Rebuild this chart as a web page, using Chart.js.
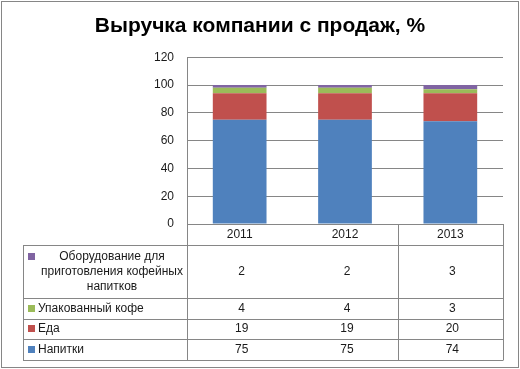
<!DOCTYPE html>
<html>
<head>
<meta charset="utf-8">
<script src="https://cdn.jsdelivr.net/npm/chart.js@4"></script>
<style>
  body { margin: 0; background: #fff; }
  canvas { display: block; }
</style>
</head>
<body>
<canvas id="revenueChart" width="520" height="369"></canvas>
<script>
// data
const years = ['2011', '2012', '2013'];
const seriesNames = ['Напитки', 'Еда', 'Упакованный кофе', 'Оборудование для приготовления кофейных напитков'];
const drinks = [75, 75, 74];
const food = [19, 19, 20];
const packedCoffee = [4, 4, 3];
const equipment = [2, 2, 3];
const seriesColors = ['#4F81BD', '#C0504D', '#9BBB59', '#8064A2'];

const lineColor = '#868686';
const textColor = '#1a1a1a';
const baseFont = '"Liberation Sans", Arial, sans-serif';

// data table under the plot (Excel style)
const dataTable = {
    id: 'dataTable',
    afterDraw(chart) {
        const ctx = chart.ctx;
        const area = chart.chartArea;
        const x = chart.scales.x;
        const rowHeights = [53, 21, 20, 21];
        const tableLeft = 23;
        const headerBottom = area.bottom + 21;

        ctx.save();
        ctx.strokeStyle = lineColor;
        ctx.lineWidth = 1;

        // row lines
        let y = headerBottom;
        const rowTops = [];
        rowHeights.forEach(h => { rowTops.push(y); y += h; });
        const tableBottom = y;
        ctx.beginPath();
        rowTops.concat([tableBottom]).forEach(ry => {
            ctx.moveTo(tableLeft, Math.round(ry) + 0.5);
            ctx.lineTo(area.right, Math.round(ry) + 0.5);
        });
        // column lines
        ctx.moveTo(tableLeft + 0.5, headerBottom);
        ctx.lineTo(tableLeft + 0.5, tableBottom);
        [area.left, (x.getPixelForValue(1) + x.getPixelForValue(2)) / 2, area.right].forEach(cx => {
            ctx.moveTo(Math.round(cx) + 0.5, area.bottom);
            ctx.lineTo(Math.round(cx) + 0.5, tableBottom + 0.5);
        });
        ctx.stroke();

        ctx.font = '12px ' + baseFont;
        ctx.fillStyle = textColor;
        ctx.textBaseline = 'middle';

        // year header
        ctx.textAlign = 'center';
        chart.data.labels.forEach((lbl, i) => {
            ctx.fillText(lbl, x.getPixelForValue(i), area.bottom + 11);
        });

        // rows, top one is the last dataset
        const datasets = chart.data.datasets;
        for (let r = 0; r < datasets.length; r++) {
            const ds = datasets[datasets.length - 1 - r];
            const top = rowTops[r];
            const h = rowHeights[r];

            // wrap the name to the column width
            const words = ds.label.split(' ');
            const lines = [];
            let cur = '';
            words.forEach(w => {
                const test = cur ? cur + ' ' + w : w;
                if (ctx.measureText(test).width > 150 && cur) {
                    lines.push(cur);
                    cur = w;
                } else {
                    cur = test;
                }
            });
            lines.push(cur);

            const lineH = 15;
            const firstY = top + h / 2 - (lines.length - 1) * lineH / 2;
            ctx.fillStyle = ds.backgroundColor;
            ctx.fillRect(28, Math.round(firstY) - 4, 7, 7);
            ctx.fillStyle = textColor;
            if (lines.length > 1) {
                ctx.textAlign = 'center';
                lines.forEach((ln, i) => ctx.fillText(ln, 112, firstY + i * lineH));
            } else {
                ctx.textAlign = 'left';
                ctx.fillText(lines[0], 38, firstY);
            }

            ctx.textAlign = 'center';
            ds.data.forEach((v, i) => {
                ctx.fillText(String(v), x.getPixelForValue(i) + 2, top + h / 2);
            });
        }

        // outer frame
        ctx.strokeStyle = lineColor;
        ctx.strokeRect(1.5, 1.5, 517, 366);
        ctx.restore();
    }
};

const chartData = {
    labels: years,
    datasets: [
        { label: seriesNames[0], data: drinks, backgroundColor: seriesColors[0] },
        { label: seriesNames[1], data: food, backgroundColor: seriesColors[1] },
        { label: seriesNames[2], data: packedCoffee, backgroundColor: seriesColors[2] },
        { label: seriesNames[3], data: equipment, backgroundColor: seriesColors[3] }
    ]
};

const config = {
    type: 'bar',
    data: chartData,
    options: {
        responsive: false,
        animation: false,
        barPercentage: 0.51,
        categoryPercentage: 1,
        layout: {
            padding: { left: 17, right: 17, top: 0, bottom: 124 }
        },
        plugins: {
            legend: { display: false },
            tooltip: { enabled: false },
            title: {
                display: true,
                text: 'Выручка компании с продаж, %',
                color: '#000',
                font: { family: baseFont, size: 21, weight: 'bold' },
                padding: { top: 14, bottom: 18 }
            }
        },
        scales: {
            x: {
                stacked: true,
                grid: { display: false },
                border: { display: true, color: lineColor },
                ticks: { display: false },
                afterFit: scale => { scale.height = 21; }
            },
            y: {
                stacked: true,
                min: 0,
                max: 120,
                ticks: { stepSize: 20, color: textColor, font: { family: baseFont, size: 12 }, padding: 13 },
                grid: { color: lineColor, drawTicks: false },
                border: { color: lineColor },
                afterFit: scale => { scale.width = 170; }
            }
        }
    },
    plugins: [dataTable]
};

const ctx = document.getElementById('revenueChart').getContext('2d');
const myChart = new Chart(ctx, config);
</script>
</body>
</html>
